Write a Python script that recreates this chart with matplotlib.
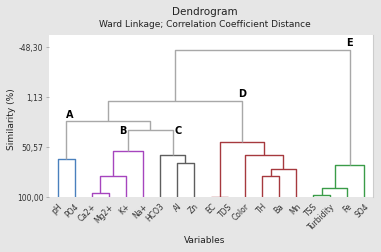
import matplotlib
matplotlib.use("Agg")
import matplotlib.pyplot as plt

# leaves in display order
labels = ["pH", "PO4", "Ca2+", "Mg2+", "K+", "Na+", "HCO3", "Al", "Zn",
          "EC", "TDS", "Color", "TH", "Ba", "Mn", "TSS", "Turbidity", "Fe", "SO4"]

# merges: (left node, right node, similarity %), new node ids start at 19
merge_left = [2, 19, 20, 0, 7, 6, 21, 22, 9, 12, 28, 11, 27, 26, 15, 33, 34, 32]
merge_right = [3, 4, 5, 1, 8, 23, 24, 25, 10, 13, 14, 29, 30, 31, 16, 17, 18, 35]
merge_sim = [96.0, 79.0, 54.2, 62.2, 66.2, 58.2, 34.3, 25.4, 99.6, 79.0,
             72.0, 58.2, 45.3, 5.4, 97.8, 91.0, 68.2, -45.4]
merge_group = ["B", "B", "B", "A", "C", "C", "link", "link", "D", "D",
               "D", "D", "D", "link", "E", "E", "E", "link"]

yticks = [-48.30, 1.13, 50.57, 100.00]
ytick_labels = ["-48,30", "1,13", "50,57", "100,00"]

group_colors = {"A": "#4a80bd", "B": "#a645be", "C": "#5e5e5e",
                "D": "#a6393e", "E": "#3a9c48", "link": "#a8a8a8"}

fig = plt.figure(figsize=(3.81, 2.53), dpi=100)
fig.patch.set_facecolor("#e6e6e6")
ax = fig.add_axes([0.1286, 0.2174, 0.8504, 0.6403])
ax.set_facecolor("white")

xpos = {i: 5 + 10 * i for i in range(len(labels))}
ypos = {i: 100.0 for i in range(len(labels))}
for k, (l, r, s, g) in enumerate(zip(merge_left, merge_right, merge_sim, merge_group)):
    node = len(labels) + k
    xl, xr = xpos[l], xpos[r]
    ax.plot([xl, xl, xr, xr], [ypos[l], s, s, ypos[r]],
            color=group_colors[g], lw=1.0, solid_capstyle="butt")
    xpos[node] = (xl + xr) / 2
    ypos[node] = s

# cluster letters
lab_kw = dict(fontsize=7, fontweight="bold", color="black")
ax.text(xpos[22], 22.5, "A", ha="left", va="bottom", **lab_kw)
ax.text(xpos[21] - 1, 33.5, "B", ha="right", va="center", **lab_kw)
ax.text(xpos[24] + 1, 33.5, "C", ha="left", va="center", **lab_kw)
ax.text(xpos[31], 2.5, "D", ha="center", va="bottom", **lab_kw)
ax.text(xpos[35], -48.5, "E", ha="center", va="bottom", **lab_kw)

ax.set_xlim(0, 10 * len(labels))
ax.set_ylim(100, -60)
ax.set_yticks(yticks)
ax.set_yticklabels(ytick_labels, fontsize=5.5, color="#333333")
ax.set_xticks([5 + 10 * i for i in range(len(labels))])
ax.set_xticklabels(labels, rotation=45, ha="right", va="top",
                   rotation_mode="anchor", fontsize=5.5, color="#333333")
ax.tick_params(axis="both", length=2, width=0.5, color="#999999", pad=2)
ax.tick_params(axis="x", length=0, pad=3)
for sp in ax.spines.values():
    sp.set_visible(False)
ax.spines["right"].set_visible(True)
ax.spines["right"].set_color("#cccccc")
ax.spines["right"].set_linewidth(0.8)

fig.text(0.538, 0.952, "Dendrogram", ha="center", va="center", fontsize=7.5, color="#222222")
fig.text(0.538, 0.903, "Ward Linkage; Correlation Coefficient Distance",
         ha="center", va="center", fontsize=6.5, color="#222222")
fig.text(0.03, 0.53, "Similarity (%)", rotation=90, ha="center", va="center",
         fontsize=6.5, color="#222222")
fig.text(0.538, 0.05, "Variables", ha="center", va="center", fontsize=6.5, color="#222222")

plt.savefig("out.png", dpi=100, facecolor=fig.get_facecolor())
